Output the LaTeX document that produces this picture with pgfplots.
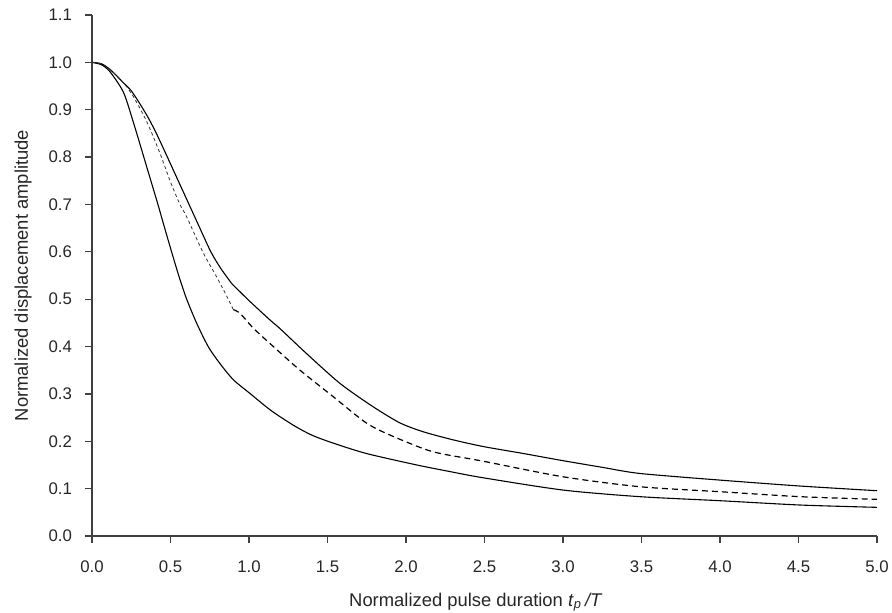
\documentclass[border=0pt]{standalone}
\usepackage{fontspec}
\setmainfont{Liberation Sans}
\usepackage{pgfplots}
\pgfplotsset{compat=1.18}
\usetikzlibrary{calc}
\definecolor{axgray}{HTML}{404040}

\begin{document}
\begin{tikzpicture}
\begin{axis}[
  name=ax,
  scale only axis, width=392.5pt, height=260.5pt,
  xmin=0, xmax=5, ymin=0, ymax=1.1,
  xtick={0,0.5,...,5}, ytick={0,0.1,...,1.1},
  axis lines=left, axis line style={-, line width=0.6pt, draw=axgray},
  tick align=outside, major tick length=3.5pt,
  tick style={line width=0.6pt, draw=axgray},
  /pgf/number format/assume math mode=true,
  /pgf/number format/.cd, fixed, fixed zerofill, precision=1, /pgfplots/.cd,
  tick label style={font=\fontsize{8.4}{10}\selectfont, text=black!85},
  xticklabel style={yshift=-5.5pt},
  yticklabel style={xshift=-3pt},
  label style={font=\fontsize{9.2}{11}\selectfont, text=black!85},
  xlabel={Normalized pulse duration \textit{t}\textsubscript{\textit{p}}\,\textit{/T}},
  ylabel={Normalized displacement amplitude},
  xlabel style={at={(axis description cs:0.489,-0.127)}, anchor=center},
  ylabel style={at={(axis description cs:-0.0879,0.5)}, anchor=center},
  every axis plot/.append style={smooth, tension=0.45},
  clip=false,
]
% lower solid curve
\addplot[black, line width=0.55pt] coordinates {
(0,1.0)(0.06,0.995)(0.115,0.98)(0.2,0.937)(0.263,0.874)(0.33,0.80)
(0.375,0.75)(0.42,0.70)(0.463,0.65)(0.507,0.60)(0.555,0.547)(0.603,0.50)
(0.667,0.449)(0.74,0.40)(0.815,0.364)(0.90,0.33)(1.006,0.301)(1.14,0.265)(1.282,0.234)
(1.40,0.213)(1.537,0.196)(1.75,0.174)(2.068,0.150)(2.28,0.136)(2.49,0.123)(3.0,0.097)
(3.49,0.083)(4.0,0.0745)(4.51,0.0654)(5.0,0.0605)};
% upper solid curve, before the kink
\addplot[black, line width=0.55pt] coordinates {
(0,1.0)(0.06,0.997)(0.115,0.985)(0.2,0.957)(0.25,0.94)(0.306,0.912)(0.36,0.882)(0.41,0.85)
(0.476,0.803)(0.545,0.753)(0.614,0.703)(0.683,0.653)(0.757,0.60)(0.82,0.565)(0.89,0.533)};
% upper solid curve, after the kink
\addplot[black, line width=0.55pt] coordinates {
(0.89,0.533)(1.0,0.497)(1.134,0.456)(1.2,0.437)(1.367,0.385)(1.58,0.322)(1.79,0.273)(1.96,0.239)
(2.11,0.220)(2.3,0.203)(2.49,0.189)(2.75,0.174)(3.0,0.159)(3.25,0.145)(3.49,0.132)
(4.0,0.118)(4.51,0.1055)(5.0,0.0956)};
% dashed curve, fine part
\addplot[black!80, line width=0.4pt, dash pattern=on 1.6pt off 1.4pt] coordinates {
(0,1.0)(0.06,0.997)(0.115,0.985)(0.2,0.957)(0.263,0.928)(0.35,0.874)
(0.433,0.808)(0.497,0.75)(0.56,0.70)(0.603,0.674)(0.705,0.60)(0.794,0.547)(0.868,0.50)(0.90,0.478)};
% dashed curve, coarse part
\addplot[black, line width=0.6pt, dash pattern=on 3pt off 2pt] coordinates {
(0.90,0.478)(0.943,0.47)(1.03,0.438)(1.155,0.40)(1.325,0.35)(1.537,0.294)(1.75,0.238)
(1.92,0.210)(2.17,0.178)(2.49,0.158)(3.0,0.125)(3.49,0.104)(4.0,0.0935)(4.51,0.083)(5.0,0.0774)};
\end{axis}
\pgfresetboundingbox
\path[use as bounding box] ($(ax.south west)+(-46pt,-38.5pt)$) rectangle ($(ax.north east)+(7.5pt,7.5pt)$);
\end{tikzpicture}
\end{document}
